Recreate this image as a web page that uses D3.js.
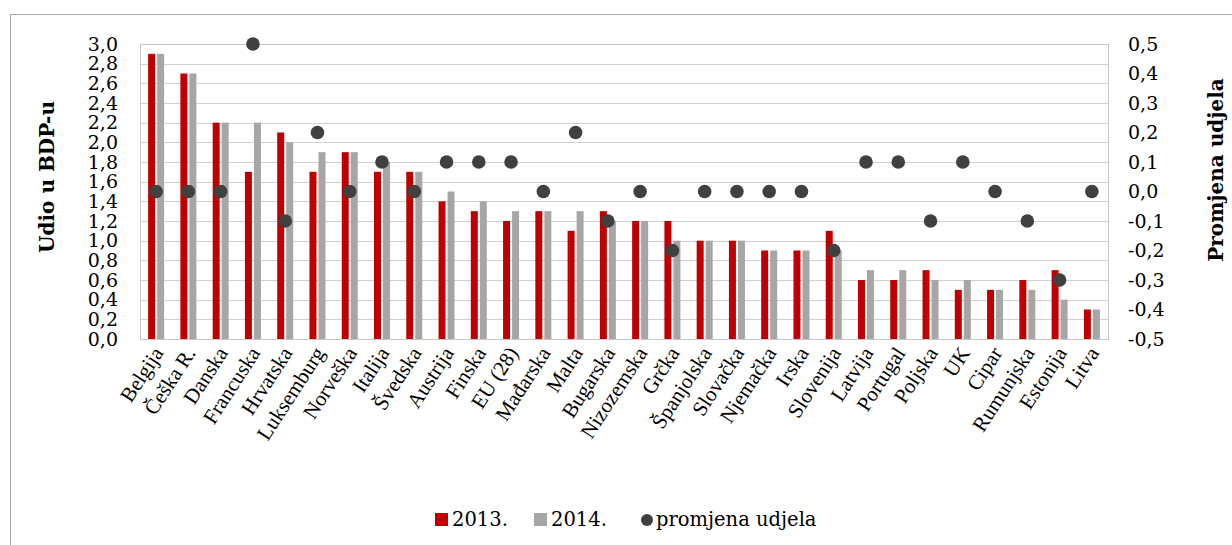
<!DOCTYPE html>
<html><head><meta charset="utf-8">
<script src="https://cdn.jsdelivr.net/npm/d3@7/dist/d3.min.js"></script>
<style>body{margin:0;background:#fff}svg{display:block}</style>
</head><body>
<svg id="c" width="1232" height="545"></svg>
<script>
const categories = ["Belgija","Češka R.","Danska","Francuska","Hrvatska","Luksemburg","Norveška","Italija","Švedska","Austrija","Finska","EU (28)","Mađarska","Malta","Bugarska","Nizozemska","Grčka","Španjolska","Slovačka","Njemačka","Irska","Slovenija","Latvija","Portugal","Poljska","UK","Cipar","Rumunjska","Estonija","Litva"];
const values2013 = [2.9,2.7,2.2,1.7,2.1,1.7,1.9,1.7,1.7,1.4,1.3,1.2,1.3,1.1,1.3,1.2,1.2,1.0,1.0,0.9,0.9,1.1,0.6,0.6,0.7,0.5,0.5,0.6,0.7,0.3];
const values2014 = [2.9,2.7,2.2,2.2,2.0,1.9,1.9,1.8,1.7,1.5,1.4,1.3,1.3,1.3,1.2,1.2,1.0,1.0,1.0,0.9,0.9,0.9,0.7,0.7,0.6,0.6,0.5,0.5,0.4,0.3];
const change = [0.0,0.0,0.0,0.5,-0.1,0.2,0.0,0.1,0.0,0.1,0.1,0.1,0.0,0.2,-0.1,0.0,-0.2,0.0,0.0,0.0,0.0,-0.2,0.1,0.1,-0.1,0.1,0.0,-0.1,-0.3,0.0];
const leftTicks = [0,0.2,0.4,0.6,0.8,1.0,1.2,1.4,1.6,1.8,2.0,2.2,2.4,2.6,2.8,3.0];
const rightTicks = [-0.5,-0.4,-0.3,-0.2,-0.1,0,0.1,0.2,0.3,0.4,0.5];
const seriesNames = ["2013.","2014.","promjena udjela"];

const svg = d3.select("#c");
const font = "'Liberation Serif', serif";
const font2 = "'DejaVu Serif', serif";
const L = 140, R = 1108, T = 44, B = 339;

svg.append("rect").attr("x",10.5).attr("y",14.5).attr("width",1400).attr("height",700)
  .attr("fill","none").attr("stroke","#a6a6a6").attr("stroke-width",1);

const x = d3.scaleBand().domain(categories).range([L,R]).padding(0);
const y = d3.scaleLinear().domain([0,3]).range([B,T]);
const y2 = d3.scaleLinear().domain([-0.5,0.5]).range([B,T]);
const fmt = d => d3.format(".1f")(d).replace(".",",").replace("−","-");

// gridlines
svg.append("g").selectAll("line").data(leftTicks).join("line")
  .attr("x1",L).attr("x2",R).attr("y1",d=>Math.round(y(d))+0.5).attr("y2",d=>Math.round(y(d))+0.5)
  .attr("stroke","#d0d0d0").attr("stroke-width",1);
svg.append("rect").attr("x",L+0.5).attr("y",T+0.5).attr("width",R-L).attr("height",B-T)
  .attr("fill","none").attr("stroke","#c8c8c8");

// bars
const bw = 7;
const g = svg.append("g");
g.selectAll(".b13").data(categories).join("rect")
  .attr("x",d=>x(d)+x.bandwidth()/2-bw-1).attr("width",bw)
  .attr("y",(d,i)=>y(values2013[i])).attr("height",(d,i)=>B-y(values2013[i]))
  .attr("fill","#c00000");
g.selectAll(".b14").data(categories).join("rect")
  .attr("x",d=>x(d)+x.bandwidth()/2+1).attr("width",bw)
  .attr("y",(d,i)=>y(values2014[i])).attr("height",(d,i)=>B-y(values2014[i]))
  .attr("fill","#a6a6a6");
// dots
g.selectAll("circle").data(categories).join("circle")
  .attr("cx",d=>x(d)+x.bandwidth()/2).attr("cy",(d,i)=>y2(change[i])).attr("r",6.8)
  .attr("fill","#404040");

// left axis
const ax = d3.axisLeft(y).tickValues(leftTicks).tickFormat(fmt).tickSize(0).tickPadding(0);
const gl = svg.append("g").attr("transform",`translate(${118},0)`).call(ax);
gl.select(".domain").remove();
gl.attr("font-family",font2).attr("font-size",19);
gl.selectAll("text").attr("font-family",font2).attr("font-size",19).attr("fill","#000").attr("dy","0.32em");

const ax2 = d3.axisRight(y2).tickValues(rightTicks).tickFormat(fmt).tickSize(0).tickPadding(0);
const gr = svg.append("g").attr("transform",`translate(${1128},0)`).call(ax2);
gr.select(".domain").remove();
gr.attr("font-family",font2).attr("font-size",19);
gr.selectAll("text").attr("font-family",font2).attr("font-size",19).attr("fill","#000").attr("dy","0.32em");

// x labels
const xa = d3.axisBottom(x).tickSize(0).tickPadding(0);
const gx = svg.append("g").attr("transform",`translate(0,${B})`).call(xa);
gx.select(".domain").attr("stroke","#c8c8c8");
gx.attr("font-family",font).attr("font-size",21);
gx.selectAll("text").attr("font-family",font).attr("font-size",21).attr("fill","#000")
  .attr("text-anchor","end").attr("dy",0).attr("y",0)
  .attr("transform","translate(8,14) rotate(-57)");

// axis titles
svg.append("text").attr("transform","translate(54,177) rotate(-90)").attr("text-anchor","middle")
  .attr("font-family",font2).attr("font-weight","bold").attr("font-size",20).text("Udio u BDP-u");
svg.append("text").attr("transform","translate(1223,170) rotate(-90)").attr("text-anchor","middle")
  .attr("font-family",font2).attr("font-weight","bold").attr("font-size",20).text("Promjena udjela");

// legend
const lg = svg.append("g").attr("font-family",font2).attr("font-size",19.5);
lg.append("rect").attr("x",435).attr("y",513).attr("width",13).attr("height",13).attr("fill","#c00000");
lg.append("text").attr("x",452).attr("y",526).text(seriesNames[0]);
lg.append("rect").attr("x",534).attr("y",513).attr("width",13).attr("height",13).attr("fill","#a6a6a6");
lg.append("text").attr("x",551).attr("y",526).text(seriesNames[1]);
lg.append("circle").attr("cx",647).attr("cy",520).attr("r",6).attr("fill","#404040");
lg.append("text").attr("x",656).attr("y",526).text(seriesNames[2]);
</script>
</body></html>
